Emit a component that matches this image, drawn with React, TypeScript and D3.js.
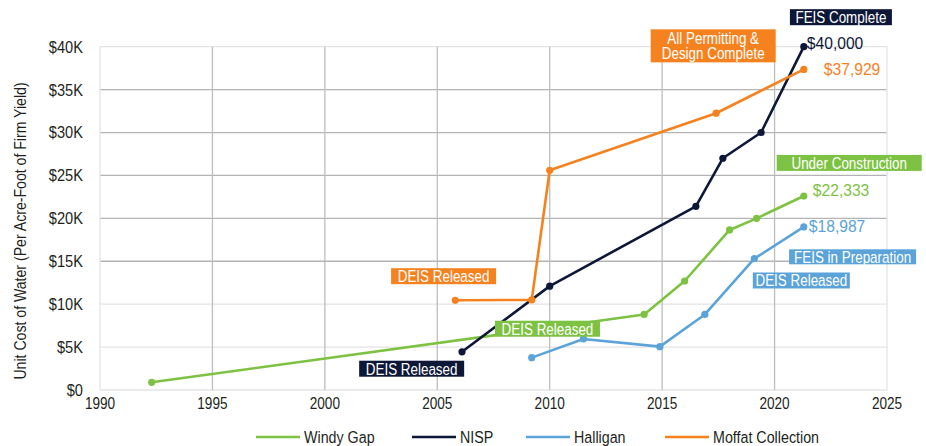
import React from 'react'
import * as d3 from 'd3'

// ---- data (years, $ per acre-foot) ----
const windyYears = [1992.3, 2009.0, 2014.2, 2016.0, 2018.0, 2019.2, 2021.3]
const windyValues = [900, 6900, 8800, 12700, 18650, 20000, 22600]

const nispYears = [2006.1, 2010.0, 2016.5, 2017.7, 2019.4, 2021.3]
const nispValues = [4450, 12100, 21400, 27000, 30000, 40000]

const halliganYears = [2009.2, 2011.5, 2014.9, 2016.9, 2019.1, 2021.3]
const halliganValues = [3770, 5950, 5050, 8800, 15300, 19000]

const moffatYears = [2005.8, 2009.2, 2010.0, 2017.4, 2021.3]
const moffatValues = [10450, 10500, 25600, 32250, 37350]

const xTicks = [1990, 1995, 2000, 2005, 2010, 2015, 2020, 2025]
const yTicks = [0, 5000, 10000, 15000, 20000, 25000, 30000, 35000, 40000]
const yTickLabels = ['$0', '$5K', '$10K', '$15K', '$20K', '$25K', '$30K', '$35K', '$40K']

const seriesNames = ['Windy Gap', 'NISP', 'Halligan', 'Moffat Collection']
const endLabels = ['$22,333', '$40,000', '$18,987', '$37,929']

const COLORS = {
  green: '#7dc242',
  navy: '#0d1738',
  blue: '#5ba3d8',
  orange: '#f5821f',
}

const FONT = '"Liberation Sans", Arial, sans-serif'

const series = [
  { name: seriesNames[0], years: windyYears, values: windyValues, color: COLORS.green, end: endLabels[0], dx: 9, dy: -6 },
  { name: seriesNames[1], years: nispYears, values: nispValues, color: COLORS.navy, end: endLabels[1], dx: 3, dy: -4 },
  { name: seriesNames[2], years: halliganYears, values: halliganValues, color: COLORS.blue, end: endLabels[2], dx: 5, dy: -1 },
  { name: seriesNames[3], years: moffatYears, values: moffatValues, color: COLORS.orange, end: endLabels[3], dx: 20, dy: 0 },
]

// milestone tags, anchored at their centre in data space
const annotations = [
  { lines: ['FEIS Complete'], color: COLORS.navy, year: 2022.95, value: 43440, w: 102, h: 16 },
  { lines: ['All Permitting &', 'Design Complete'], color: COLORS.orange, year: 2017.27, value: 40100, w: 125, h: 33 },
  { lines: ['Under Construction'], color: COLORS.green, year: 2023.32, value: 26460, w: 145, h: 16 },
  { lines: ['FEIS in Preparation'], color: COLORS.blue, year: 2023.47, value: 15520, w: 127, h: 15 },
  { lines: ['DEIS Released'], color: COLORS.blue, year: 2021.19, value: 12760, w: 97, h: 16 },
  { lines: ['DEIS Released'], color: COLORS.orange, year: 2005.28, value: 13260, w: 105, h: 16 },
  { lines: ['DEIS Released'], color: COLORS.green, year: 2009.9, value: 7140, w: 105, h: 16 },
  { lines: ['DEIS Released'], color: COLORS.navy, year: 2003.86, value: 2480, w: 105, h: 16 },
]

const W = 926
const H = 446
const margin = { top: 46.7, right: 39, bottom: 56, left: 100 }

type TProps = {
  x: number
  y: number
  children: React.ReactNode
  size?: number
  fill?: string
  anchor?: 'start' | 'middle' | 'end'
  rotate?: number
  squeeze?: number
}

// condensed text: draw normally then squeeze along the baseline
function T({ x, y, children, size = 17, fill = '#231f20', anchor = 'start', rotate = 0, squeeze = 0.84 }: TProps) {
  return (
    <text
      transform={`translate(${x},${y}) rotate(${rotate}) scale(${squeeze},1)`}
      dy="0.35em"
      textAnchor={anchor}
      fontSize={size}
      fill={fill}
    >
      {children}
    </text>
  )
}

export default function App() {
  const x = d3.scaleLinear().domain([1990, 2025]).range([margin.left, W - margin.right])
  const y = d3.scaleLinear().domain([0, 40000]).range([H - margin.bottom, margin.top])

  const line = d3
    .line<[number, number]>()
    .x((d) => x(d[0]))
    .y((d) => y(d[1]))

  const legendX = [256, 412, 526, 665]

  return (
    <div style={{ position: 'absolute', left: 0, top: 0 }}>
      <svg width={W} height={H} style={{ display: 'block', fontFamily: FONT }}>
        <rect width={W} height={H} fill="#fff" />

        {/* grid */}
        {yTicks.map((t) => {
          const strong = t >= 15000 && t <= 35000
          return (
            <line
              key={'h' + t}
              x1={x(1990)}
              x2={x(2025)}
              y1={y(t)}
              y2={y(t)}
              stroke={strong ? '#b4b4b4' : '#e4e4e4'}
              strokeWidth={1.3}
            />
          )
        })}
        {xTicks.map((t) => {
          const strong = t > 1990 && t < 2025
          return (
            <line
              key={'v' + t}
              x1={x(t)}
              x2={x(t)}
              y1={y(40000)}
              y2={y(0)}
              stroke={strong ? '#bdbdbd' : '#e4e4e4'}
              strokeWidth={1.3}
            />
          )
        })}

        {/* y ticks */}
        {yTicks.map((t, i) => (
          <T key={'yl' + t} x={83} y={y(t)} anchor="end" squeeze={0.86}>
            {yTickLabels[i]}
          </T>
        ))}
        {/* x ticks */}
        {xTicks.map((t) => (
          <T key={'xl' + t} x={x(t)} y={y(0) + 13} anchor="middle" squeeze={0.8}>
            {t}
          </T>
        ))}

        <T x={20} y={231} rotate={-90} anchor="middle" squeeze={0.83}>
          Unit Cost of Water (Per Acre-Foot of Firm Yield)
        </T>

        {/* series */}
        {series.map((s) => {
          const pts = s.years.map((yr, i) => [yr, s.values[i]] as [number, number])
          const last = pts[pts.length - 1]
          return (
            <g key={s.name}>
              <path d={line(pts) ?? ''} fill="none" stroke={s.color} strokeWidth={2.6} strokeLinejoin="round" />
              {pts.map((p, i) => (
                <circle key={i} cx={x(p[0])} cy={y(p[1])} r={3.6} fill={s.color} />
              ))}
              <T x={x(last[0]) + s.dx} y={y(last[1]) + s.dy} fill={s.color} squeeze={0.92}>
                {s.end}
              </T>
            </g>
          )
        })}

        {/* milestone tags */}
        {annotations.map((a, i) => {
          const cx = x(a.year)
          const cy = y(a.value)
          const n = a.lines.length
          return (
            <g key={'a' + i}>
              <rect x={cx - a.w / 2} y={cy - a.h / 2} width={a.w} height={a.h} fill={a.color} />
              {a.lines.map((l, j) => (
                <T key={j} x={cx} y={cy + (j - (n - 1) / 2) * 15} anchor="middle" fill="#fff" squeeze={0.79}>
                  {l}
                </T>
              ))}
            </g>
          )
        })}

        {/* legend */}
        {series.map((s, i) => (
          <g key={'lg' + s.name}>
            <line x1={legendX[i]} x2={legendX[i] + 44} y1={437} y2={437} stroke={s.color} strokeWidth={2.6} />
            <T x={legendX[i] + 48} y={437} squeeze={0.84}>
              {s.name}
            </T>
          </g>
        ))}
      </svg>
    </div>
  )
}
